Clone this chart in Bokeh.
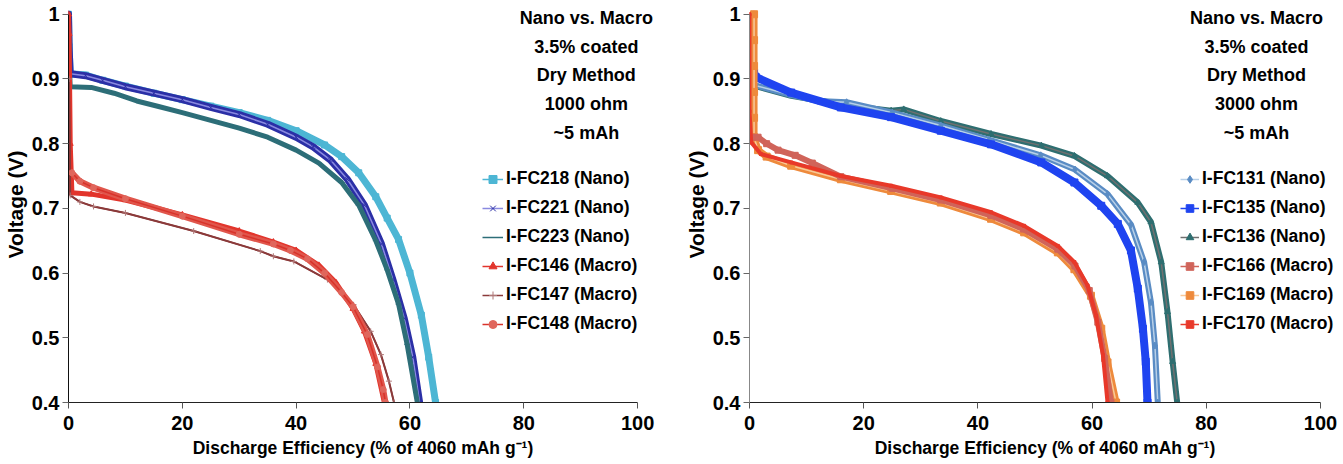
from bokeh.plotting import figure
from bokeh.models import Range1d, FixedTicker, Legend, LegendItem, Label
from bokeh.layouts import row
from bokeh.embed import file_html
from bokeh.resources import INLINE

# ---------------- data: left panel (1000 ohm) ----------------
fc218_x = [0, 0.1, 0.3, 3, 6, 10, 15, 20, 25, 30, 35, 40, 45, 48, 51, 54, 56, 58, 60, 62, 63.3, 64.5]
fc218_y = [1.0, 0.95, 0.908, 0.906, 0.898, 0.889, 0.878, 0.868, 0.858, 0.848, 0.836, 0.82, 0.798, 0.78, 0.755, 0.718, 0.685, 0.652, 0.6, 0.535, 0.47, 0.40]

fc221_x = [0, 0.1, 0.3, 3, 6, 10, 15, 20, 25, 30, 35, 40, 43, 46, 49, 52, 55, 57, 59, 60.5, 61.7]
fc221_y = [1.0, 0.95, 0.908, 0.905, 0.898, 0.888, 0.878, 0.868, 0.856, 0.845, 0.83, 0.81, 0.795, 0.775, 0.745, 0.705, 0.645, 0.59, 0.53, 0.47, 0.40]

fc223_x = [0, 0.1, 0.3, 4, 8, 12, 16, 20, 25, 30, 35, 40, 44, 48, 51, 54, 56, 58, 59.5, 61.3]
fc223_y = [0.99, 0.93, 0.888, 0.887, 0.878, 0.866, 0.857, 0.848, 0.836, 0.824, 0.81, 0.79, 0.77, 0.74, 0.705, 0.65, 0.605, 0.552, 0.49, 0.40]

fc146_x = [0, 0.1, 0.3, 0.6, 4, 10, 20, 30, 36, 40, 44, 47, 50, 52, 54, 55.5]
fc146_y = [1.0, 0.97, 0.8, 0.724, 0.722, 0.713, 0.69, 0.665, 0.648, 0.635, 0.612, 0.585, 0.545, 0.51, 0.46, 0.40]

fc147_x = [0.1, 0.3, 2, 4.4, 10, 22, 33.7, 36, 39.6, 45.5, 50.1, 53.1, 54.9, 56.3, 57.2]
fc147_y = [0.9, 0.72, 0.71, 0.703, 0.693, 0.665, 0.634, 0.626, 0.618, 0.59, 0.551, 0.51, 0.474, 0.433, 0.40]

fc148_x = [0.6, 2, 4.4, 10, 20, 30, 36, 39, 42, 45, 48, 50, 52.5, 54.3, 55.3, 55.7]
fc148_y = [0.755, 0.742, 0.732, 0.715, 0.688, 0.66, 0.645, 0.635, 0.622, 0.6, 0.57, 0.548, 0.505, 0.455, 0.42, 0.40]

# ---------------- data: right panel (3000 ohm) ----------------
fc131_x = [1, 7, 12, 17, 25, 33.5, 42, 51, 57, 62.7, 66.8, 69.1, 70.3, 71.0, 71.5]
fc131_y = [0.89, 0.876, 0.866, 0.864, 0.848, 0.828, 0.806, 0.782, 0.76, 0.722, 0.675, 0.617, 0.555, 0.488, 0.40]

fc135_x = [0.8, 1.1, 7.3, 16, 24.8, 33.5, 42.3, 51.1, 56.9, 61.6, 64.5, 66.8, 68, 68.9, 69.4, 69.7]
fc135_y = [0.91, 0.903, 0.879, 0.856, 0.841, 0.82, 0.799, 0.771, 0.74, 0.704, 0.676, 0.635, 0.576, 0.514, 0.463, 0.40]

fc136_x = [1.1, 7.3, 16, 20, 24.8, 27, 33.5, 42.3, 51.1, 56.9, 62.7, 68, 70.3, 72.1, 73.2, 74.1, 74.9]
fc136_y = [0.889, 0.874, 0.861, 0.856, 0.851, 0.853, 0.835, 0.815, 0.797, 0.781, 0.75, 0.709, 0.679, 0.617, 0.54, 0.463, 0.40]

fc166_x = [0.5, 1.5, 3, 5, 8, 11, 16, 25, 33.5, 42.3, 48, 54, 57, 59.5, 61, 62.2, 63.3]
fc166_y = [0.81, 0.81, 0.80, 0.79, 0.782, 0.77, 0.749, 0.731, 0.713, 0.689, 0.668, 0.637, 0.611, 0.573, 0.524, 0.468, 0.40]

fc169_x = [0.8, 0.8, 0.8, 0.8, 0.8, 0.8, 1.5, 3, 7.3, 16, 24.8, 33.5, 42.3, 48.1, 54, 56.9, 59.8, 61.6, 62.7, 64.2]
fc169_y = [1.0, 0.96, 0.92, 0.88, 0.84, 0.81, 0.79, 0.78, 0.766, 0.745, 0.727, 0.709, 0.684, 0.663, 0.632, 0.606, 0.565, 0.514, 0.462, 0.40]

fc170_x = [0, 0, 0.3, 2, 7.3, 16, 24.8, 33.5, 42.3, 48.1, 54, 56.9, 59.2, 60.7, 61.9, 62.7]
fc170_y = [1.0, 0.85, 0.802, 0.784, 0.771, 0.75, 0.735, 0.717, 0.694, 0.673, 0.642, 0.617, 0.581, 0.534, 0.473, 0.40]

x_ticks = [0, 20, 40, 60, 80, 100]
y_ticks = [0.4, 0.5, 0.6, 0.7, 0.8, 0.9, 1.0]
y_tick_labels = {0.4: "0.4", 0.5: "0.5", 0.6: "0.6", 0.7: "0.7", 0.8: "0.8", 0.9: "0.9", 1.0: "1"}

left_title = ["Nano vs. Macro", "3.5% coated", "Dry Method", "1000 ohm", "~5 mAh"]
right_title = ["Nano vs. Macro", "3.5% coated", "Dry Method", "3000 ohm", "~5 mAh"]
x_label = "Discharge Efficiency (% of 4060 mAh g\u207b\u00b9)"
y_label = "Voltage (V)"

FONT = "Liberation Sans"


def make_fig(width, bl, br, x_end, yaxis_color):
    p = figure(width=width, height=464, output_backend="svg", toolbar_location=None,
               x_range=Range1d(0, x_end), y_range=Range1d(0.4, 1.012),
               min_border_left=bl, min_border_right=br, min_border_top=6, min_border_bottom=62)
    p.outline_line_color = None
    p.xgrid.visible = False
    p.ygrid.visible = False
    p.xaxis.ticker = FixedTicker(ticks=x_ticks)
    p.yaxis.ticker = FixedTicker(ticks=y_ticks)
    p.xaxis.bounds = (0, 100)
    p.yaxis.bounds = (0.4, 1.0)
    p.yaxis.major_label_overrides = y_tick_labels
    for ax in (p.xaxis, p.yaxis):
        ax.minor_tick_line_color = None
        ax.major_tick_in = 0
        ax.major_tick_out = 6
        ax.major_label_text_font = FONT
        ax.major_label_text_font_style = "bold"
        ax.major_label_text_font_size = "20px"
        ax.major_label_text_color = "black"
        ax.axis_label_text_font = FONT
        ax.axis_label_text_font_style = "bold"
        ax.axis_label_text_color = "black"
    p.xaxis.axis_line_color = "#222222"
    p.xaxis.major_tick_line_color = "#555555"
    p.yaxis.axis_line_color = yaxis_color
    p.yaxis.major_tick_line_color = "#666666"
    p.xaxis.axis_label = x_label
    p.yaxis.axis_label = y_label
    p.xaxis.axis_label_text_font_size = "17.5px"
    p.yaxis.axis_label_text_font_size = "21px"
    p.xaxis.major_label_standoff = 7
    p.yaxis.major_label_standoff = 3
    p.xaxis.axis_label_standoff = 5
    p.yaxis.axis_label_standoff = 2
    return p


def series(p, xs, ys, band_color, band_w, line_color, line_w, marker, m_color, m_size):
    p.line(xs, ys, line_color=band_color, line_width=band_w, line_join="round", line_cap="round")
    ln = p.line(xs, ys, line_color=line_color, line_width=line_w)
    sc = p.scatter(xs, ys, marker=marker, size=m_size, fill_color=m_color, line_color=m_color)
    return [ln, sc]


def add_title(p, xc, ys, lines):
    for yy, t in zip(ys, lines):
        p.add_layout(Label(x=xc, y=yy, text=t, text_align="center", text_baseline="middle",
                           text_font=FONT, text_font_style="bold", text_font_size="18px",
                           text_color="black"))


def add_legend(p, items, loc, gw):
    leg = Legend(items=[LegendItem(label=l, renderers=r) for l, r in items], location=loc,
                 orientation="vertical", glyph_width=gw, glyph_height=20, label_height=20,
                 spacing=8, padding=0, margin=0, label_standoff=3,
                 border_line_color=None, background_fill_alpha=0,
                 label_text_font=FONT, label_text_font_style="bold",
                 label_text_font_size="17.5px", label_text_color="black")
    p.add_layout(leg)


title_y = [0.994, 0.950, 0.906, 0.861, 0.816]

# ---------------- left figure ----------------
p1 = make_fig(672, 68, 15, 103.5, "#111111")
r218 = series(p1, fc218_x, fc218_y, "#4DB6D4", 7, "#4DB6D4", 1.5, "square", "#4DB6D4", 6)
r221 = series(p1, fc221_x, fc221_y, "#2B2FA6", 7, "#8A8AE0", 1.5, "x", "#2B2FA6", 6)
r223 = series(p1, fc223_x, fc223_y, "#2D6E78", 5, "#2D6E78", 1.5, "dash", "#2D6E78", 6)
r146 = series(p1, fc146_x, fc146_y, "#E2352C", 5, "#E2352C", 1.5, "triangle", "#E2352C", 6)
r147 = series(p1, fc147_x, fc147_y, "#8B3A3A", 2, "#8B3A3A", 1.5, "cross", "#B07878", 6)
r148 = series(p1, fc148_x, fc148_y, "#E0564C", 6, "#D8332B", 1.5, "circle", "#E0665C", 6)
add_title(p1, 91.0, title_y, left_title)
add_legend(p1, [("I-FC218 (Nano)", r218), ("I-FC221 (Nano)", r221), ("I-FC223 (Nano)", r223),
                ("I-FC146 (Macro)", r146), ("I-FC147 (Macro)", r147), ("I-FC148 (Macro)", r148)],
           (414, 68), 21)

# ---------------- right figure ----------------
p2 = make_fig(671, 77, 3, 103.5, "#888888")
r136 = series(p2, fc136_x, fc136_y, "#2E6E70", 6, "#707070", 1.5, "triangle", "#2E6E70", 6)
r131 = series(p2, fc131_x, fc131_y, "#5A8CC4", 6, "#B8D0E8", 1.5, "diamond", "#5A8CC4", 7)
r135 = series(p2, fc135_x, fc135_y, "#1F44F0", 8, "#1F44F0", 1.5, "square", "#1F44F0", 7)
r169 = series(p2, fc169_x, fc169_y, "#EE8A3C", 7, "#F8C898", 1.5, "square", "#EE8A3C", 7)
r166 = series(p2, fc166_x, fc166_y, "#D0645A", 6, "#D0645A", 1.5, "square", "#D0645A", 6)
r170 = series(p2, fc170_x, fc170_y, "#E8392A", 4, "#E8392A", 1.5, "square", "#E8392A", 3)
add_title(p2, 88.8, title_y, right_title)
add_legend(p2, [("I-FC131 (Nano)", r131), ("I-FC135 (Nano)", r135), ("I-FC136 (Nano)", r136),
                ("I-FC166 (Macro)", r166), ("I-FC169 (Macro)", r169), ("I-FC170 (Macro)", r170)],
           (431, 68), 19)

layout = row(p1, p2)
open("out.html", "w").write(file_html(layout, INLINE))
